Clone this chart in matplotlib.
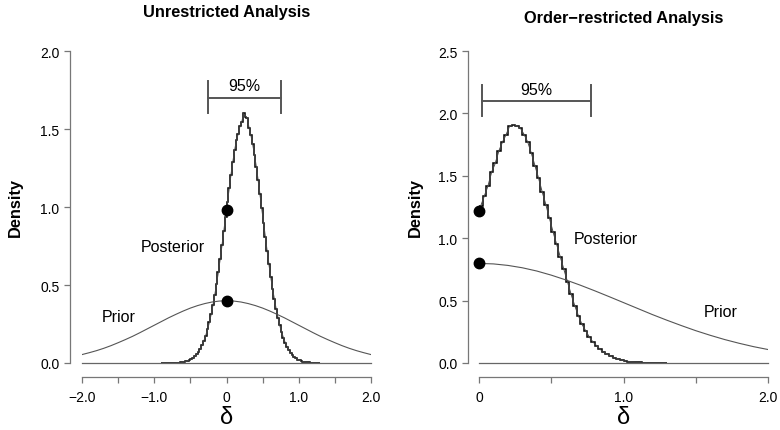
import numpy as np
import matplotlib.pyplot as plt

plt.rcParams['font.family'] = ['Liberation Sans', 'DejaVu Sans']

# posterior histograms (bin width 0.025)
bin_w = 0.025
left_edges_start = -0.9
left_post = [0.0001, 0.0001, 0.0002, 0.0003, 0.0004, 0.0006, 0.0009, 0.0014, 0.0019, 0.0028,
             0.0039, 0.0055, 0.0076, 0.0103, 0.014, 0.019, 0.025, 0.033, 0.043, 0.056,
             0.072, 0.091, 0.115, 0.143, 0.176, 0.215, 0.260, 0.312, 0.370, 0.435,
             0.507, 0.584, 0.667, 0.754, 0.844, 0.937, 1.029, 1.120, 1.208, 1.289,
             1.363, 1.428, 1.470, 1.521, 1.547, 1.600, 1.580, 1.570, 1.506, 1.461,
             1.403, 1.334, 1.257, 1.173, 1.083, 0.993, 0.900, 0.808, 0.717, 0.632,
             0.551, 0.476, 0.409, 0.346, 0.291, 0.241, 0.199, 0.162, 0.131, 0.105,
             0.083, 0.065, 0.051, 0.039, 0.030, 0.022, 0.017, 0.012, 0.0091, 0.0066,
             0.0048, 0.0034, 0.0024, 0.0017, 0.0012, 0.0008, 0.0005, 0.0003]
right_edges_start = 0.0
right_post = [1.26, 1.34, 1.42, 1.53, 1.60, 1.70, 1.77, 1.83, 1.90, 1.91,
              1.90, 1.88, 1.83, 1.77, 1.68, 1.58, 1.48, 1.37, 1.27, 1.16,
              1.05, 0.95, 0.85, 0.75, 0.65, 0.55, 0.46, 0.38, 0.31, 0.26,
              0.21, 0.17, 0.14, 0.11, 0.088, 0.07, 0.054, 0.042, 0.032, 0.024,
              0.017, 0.012, 0.0085, 0.006, 0.0042, 0.003, 0.002, 0.0014, 0.001, 0.0007,
              0.0004, 0.0002]

# priors read at 0.1 steps
left_prior_x = np.round(np.arange(-2.0, 2.01, 0.1), 2)
left_prior = [0.054, 0.066, 0.079, 0.094, 0.111, 0.130, 0.150, 0.171, 0.194, 0.218,
              0.242, 0.266, 0.290, 0.312, 0.333, 0.352, 0.368, 0.381, 0.391, 0.397,
              0.399,
              0.397, 0.391, 0.381, 0.368, 0.352, 0.333, 0.312, 0.290, 0.266, 0.242,
              0.218, 0.194, 0.171, 0.150, 0.130, 0.111, 0.094, 0.079, 0.066, 0.054]
right_prior_x = np.round(np.arange(0.0, 2.01, 0.1), 2)
right_prior = [0.798, 0.794, 0.782, 0.763, 0.737, 0.704, 0.666, 0.624, 0.579, 0.532,
               0.484, 0.436, 0.388, 0.343, 0.300, 0.259, 0.222, 0.188, 0.158, 0.131,
               0.108]

# density at delta = 0 (posterior, prior)
left_dots = [0.98, 0.40]
right_dots = [1.22, 0.80]

# 95% credible intervals
left_ci = [-0.25, 0.75]
right_ci = [0.02, 0.775]

fig = plt.figure(figsize=(7.8, 4.31), dpi=100)
W, H = 780, 431


def px_axes(x0, x1, y0, y1):
    return fig.add_axes([x0 / W, 1 - y1 / H, (x1 - x0) / W, (y1 - y0) / H])


ax1 = px_axes(82, 371, 52, 364)
ax2 = px_axes(479, 768, 52, 364)

grey = '#777777'


def style(ax, xlim, ylim, xticks, xlabels, yticks, yoff):
    ax.set_xlim(*xlim)
    ax.set_ylim(*ylim)
    for s in ['top', 'right']:
        ax.spines[s].set_visible(False)
    ax.spines['left'].set_position(('outward', yoff * 0.72))
    ax.spines['bottom'].set_position(('outward', 14 * 0.72))
    ax.spines['left'].set_bounds(yticks[0], yticks[-1])
    ax.spines['bottom'].set_bounds(xticks[0], xticks[-1])
    for s in ['left', 'bottom']:
        ax.spines[s].set_color(grey)
        ax.spines[s].set_linewidth(0.9)
    ax.set_xticks(xticks)
    ax.set_xticklabels(xlabels)
    ax.set_yticks(yticks)
    ax.set_yticklabels(['%.1f' % v for v in yticks])
    ax.tick_params(axis='both', colors=grey, labelcolor='black', labelsize=10,
                   length=4.5, width=0.9)
    ax.tick_params(axis='x', pad=5)
    ax.tick_params(axis='y', pad=3)
    ax.patch.set_alpha(0)


def draw(ax, start, post, px, prior, dots, ci, ci_y, xr):
    edges = start + bin_w * np.arange(len(post) + 1)
    centers = start + bin_w * (np.arange(len(post)) + 0.5)
    ax.plot(xr, [0, 0], color='#666666', lw=0.9, clip_on=False)
    ax.plot(px, prior, color='#555555', lw=0.8)
    ax.stairs(post, edges, baseline=None, color='black', lw=1.1, clip_on=False)
    ax.plot(centers, post, color='#444444', lw=0.7)
    ax.plot([0, 0], dots, 'o', color='black', ms=7.5, clip_on=False, zorder=5)
    h = ci_y[1]
    ax.plot(ci, [h, h], color='#555555', lw=1.4)
    for x in ci:
        ax.plot([x, x], [ci_y[0], ci_y[2]], color='#555555', lw=1.4)
    ax.text(np.mean(ci), ci_y[3], '95%', ha='center', va='center', fontsize=11.5)


draw(ax1, left_edges_start, left_post, left_prior_x, left_prior, left_dots,
     left_ci, (1.60, 1.70, 1.81, 1.78), [-2, 2])
draw(ax2, right_edges_start, right_post, right_prior_x, right_prior, right_dots,
     right_ci, (1.98, 2.10, 2.23, 2.19), [0, 2])

ax1.text(-0.75, 0.75, 'Posterior', ha='center', va='center', fontsize=11.5)
ax1.text(-1.49, 0.30, 'Prior', ha='center', va='center', fontsize=11.5)
ax2.text(0.875, 1.0, 'Posterior', ha='center', va='center', fontsize=11.5)
ax2.text(1.67, 0.41, 'Prior', ha='center', va='center', fontsize=11.5)

style(ax1, (-2, 2), (0, 2.0), np.arange(-2, 2.01, 0.5),
      ['\u22122.0', '', '\u22121.0', '', '0', '', '1.0', '', '2.0'],
      [0.0, 0.5, 1.0, 1.5, 2.0], 12)
style(ax2, (0, 2), (0, 2.5), np.arange(0, 2.01, 0.5),
      ['0', '', '1.0', '', '2.0'],
      [0.0, 0.5, 1.0, 1.5, 2.0, 2.5], 11)

fig.text(226.5 / W, 1 - 13 / H, 'Unrestricted Analysis', ha='center', va='center',
         fontsize=11.8, fontweight='bold')
fig.text(623.5 / W, 1 - 18 / H, 'Order\u2212restricted Analysis', ha='center',
         va='center', fontsize=11.8, fontweight='bold')
fig.text(15 / W, 1 - 208 / H, 'Density', rotation=90, ha='center', va='center',
         fontsize=11.8, fontweight='bold')
fig.text(415 / W, 1 - 208 / H, 'Density', rotation=90, ha='center', va='center',
         fontsize=11.8, fontweight='bold')
fig.text(226.5 / W, 1 - 418 / H, '\u03b4', ha='center', va='center', fontsize=17)
fig.text(623.5 / W, 1 - 418 / H, '\u03b4', ha='center', va='center', fontsize=17)

fig.savefig('out.png', dpi=100)
